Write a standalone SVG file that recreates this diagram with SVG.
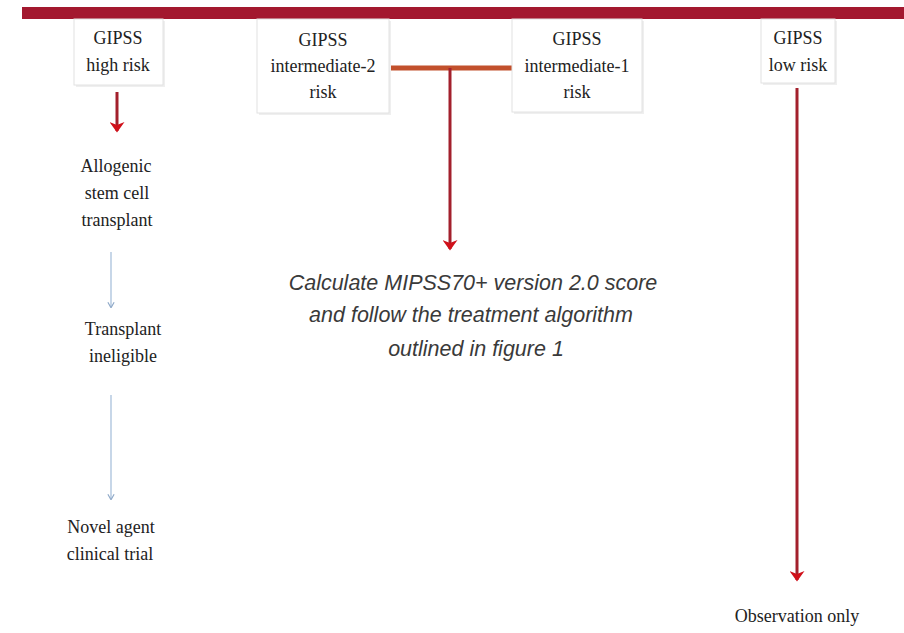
<svg xmlns="http://www.w3.org/2000/svg" width="904" height="633" viewBox="0 0 904 633">
<defs>
<style>
.box{fill:#ffffff;stroke:#e2e2e2;stroke-width:1}
.shadow{fill:#efefef}
.serif{font-family:"Liberation Serif","Times New Roman",serif;font-size:18px;fill:#222;text-anchor:middle}
.ital{font-family:"Liberation Sans",Arial,sans-serif;font-size:21.5px;font-style:italic;fill:#3a3a3a;text-anchor:middle}
.red{stroke:#a3202c;stroke-width:3;fill:none}
.blue{stroke:#a9c1dc;stroke-width:1.3;fill:none}
</style>
<marker id="redhead" viewBox="0 0 10 10" refX="9" refY="5" markerWidth="5" markerHeight="5" markerUnits="strokeWidth" orient="auto">
<path d="M3,0 L10,5 L3,10 L5,5 Z" fill="#d0101a"/>
</marker>
<marker id="bluehead" viewBox="0 0 10 10" refX="9" refY="5" markerWidth="6" markerHeight="6" markerUnits="strokeWidth" orient="auto">
<path d="M3,1 L10,5 L3,9" fill="none" stroke="#8fa9c8" stroke-width="1.5"/>
</marker>
</defs>
<rect width="904" height="633" fill="#ffffff"/>
<rect id="topbar" x="22" y="7" width="882" height="12" fill="#a3182f"/>

<g id="connectors">
<line x1="388" y1="68" x2="512" y2="68" stroke="#c2502c" stroke-width="5"/>
<line class="red" x1="117" y1="92" x2="117" y2="131" marker-end="url(#redhead)"/>
<line class="red" x1="450" y1="68" x2="450" y2="249" marker-end="url(#redhead)"/>
<line class="red" x1="797" y1="88" x2="797" y2="580" marker-end="url(#redhead)"/>
<line class="blue" x1="111" y1="252" x2="111" y2="307" marker-end="url(#bluehead)"/>
<line class="blue" x1="111" y1="395" x2="111" y2="499" marker-end="url(#bluehead)"/>
</g>

<g id="high-risk">
<rect class="shadow" x="76" y="21" width="89" height="66"/>
<rect class="box" x="74" y="19" width="89" height="66"/>
<text class="serif" x="118" y="44">GIPSS</text>
<text class="serif" x="118" y="71">high risk</text>
</g>

<g id="int2-risk">
<rect class="shadow" x="259" y="21" width="132" height="94"/>
<rect class="box" x="257" y="19" width="132" height="94"/>
<text class="serif" x="323" y="46">GIPSS</text>
<text class="serif" x="323" y="72">intermediate-2</text>
<text class="serif" x="323" y="98">risk</text>
</g>

<g id="int1-risk">
<rect class="shadow" x="514" y="21" width="130" height="93"/>
<rect class="box" x="512" y="19" width="130" height="93"/>
<text class="serif" x="577" y="45">GIPSS</text>
<text class="serif" x="577" y="72">intermediate-1</text>
<text class="serif" x="577" y="98">risk</text>
</g>

<g id="low-risk">
<rect class="shadow" x="763" y="21" width="74" height="64"/>
<rect class="box" x="761" y="19" width="74" height="64"/>
<text class="serif" x="798" y="44">GIPSS</text>
<text class="serif" x="798" y="71">low risk</text>
</g>

<g id="allogenic">
<text class="serif" x="116" y="172">Allogenic</text>
<text class="serif" x="117" y="199">stem cell</text>
<text class="serif" x="117" y="226">transplant</text>
</g>

<g id="ineligible">
<text class="serif" x="123" y="335">Transplant</text>
<text class="serif" x="123" y="362">ineligible</text>
</g>

<g id="novel-agent">
<text class="serif" x="111" y="533">Novel agent</text>
<text class="serif" x="110" y="560">clinical trial</text>
</g>

<g id="observation">
<text class="serif" x="797" y="622">Observation only</text>
</g>

<g id="mipss">
<text class="ital" x="473" y="290">Calculate MIPSS70+ version 2.0 score</text>
<text class="ital" x="471" y="322">and follow the treatment algorithm</text>
<text class="ital" x="476" y="356">outlined in figure 1</text>
</g>
</svg>
